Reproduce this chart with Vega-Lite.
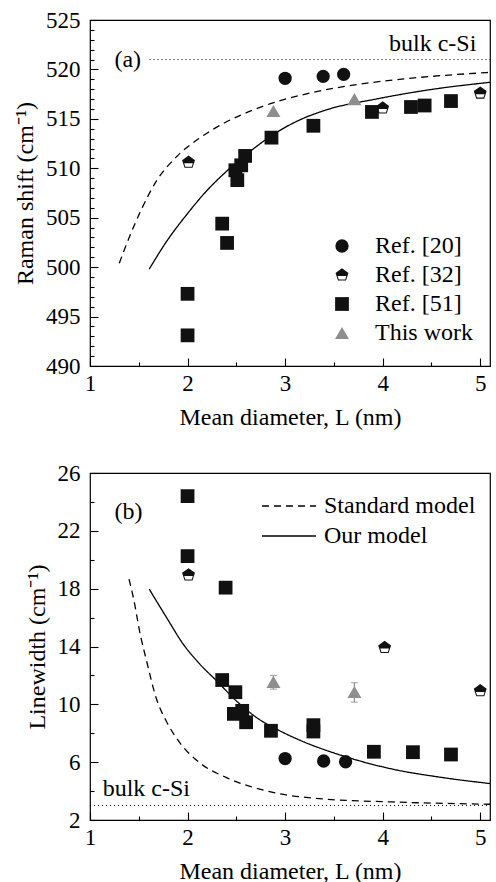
{
  "$schema": "https://vega.github.io/schema/vega-lite/v6.json",
  "background": "white",
  "padding": {"left": 12, "top": 8, "right": 0, "bottom": 0},
  "bounds": "flush",
  "spacing": 107,
  "config": {
    "font": "Liberation Serif",
    "view": {"stroke": "black", "strokeWidth": 1.2},
    "axis": {
      "domain": false, "grid": false, "labelOverlap": false, "labelFlush": false,
      "labelFont": "Liberation Serif", "labelFontSize": 23, "labelColor": "black",
      "titleFont": "Liberation Serif", "titleFontSize": 24, "titleFontWeight": "normal", "titleColor": "black",
      "tickColor": "black", "tickWidth": 1.1
    },
    "legend": {"labelFont": "Liberation Serif", "labelFontSize": 24, "labelColor": "black", "padding": 0}
  },
  "datasets": {
    "a_pts": [
      {"series": "Ref. [20]", "L": 3.0, "v": 519.1},
      {"series": "Ref. [20]", "L": 3.39, "v": 519.3},
      {"series": "Ref. [20]", "L": 3.6, "v": 519.5},
      {"series": "Ref. [32]", "L": 2.01, "v": 510.6},
      {"series": "Ref. [32]", "L": 4.0, "v": 516.1},
      {"series": "Ref. [32]", "L": 5.0, "v": 517.6},
      {"series": "Ref. [51]", "L": 2.0, "v": 497.3},
      {"series": "Ref. [51]", "L": 2.0, "v": 493.1},
      {"series": "Ref. [51]", "L": 2.355, "v": 504.4},
      {"series": "Ref. [51]", "L": 2.405, "v": 502.45},
      {"series": "Ref. [51]", "L": 2.49, "v": 509.8},
      {"series": "Ref. [51]", "L": 2.51, "v": 508.8},
      {"series": "Ref. [51]", "L": 2.55, "v": 510.3},
      {"series": "Ref. [51]", "L": 2.59, "v": 511.25},
      {"series": "Ref. [51]", "L": 2.86, "v": 513.1},
      {"series": "Ref. [51]", "L": 3.29, "v": 514.3},
      {"series": "Ref. [51]", "L": 3.89, "v": 515.7},
      {"series": "Ref. [51]", "L": 4.29, "v": 516.2},
      {"series": "Ref. [51]", "L": 4.43, "v": 516.35},
      {"series": "Ref. [51]", "L": 4.7, "v": 516.8},
      {"series": "This work", "L": 2.88, "v": 515.8},
      {"series": "This work", "L": 3.71, "v": 517.0}
    ],
    "a_curves": [
      {"model": "Standard model", "L": 1.30, "v": 500.4},
      {"model": "Standard model", "L": 1.41, "v": 503.2},
      {"model": "Standard model", "L": 1.53, "v": 505.9},
      {"model": "Standard model", "L": 1.68, "v": 508.7},
      {"model": "Standard model", "L": 1.89, "v": 511.2},
      {"model": "Standard model", "L": 2.13, "v": 513.1},
      {"model": "Standard model", "L": 2.36, "v": 514.5},
      {"model": "Standard model", "L": 2.55, "v": 515.4},
      {"model": "Standard model", "L": 2.78, "v": 516.3},
      {"model": "Standard model", "L": 3.25, "v": 517.6},
      {"model": "Standard model", "L": 3.76, "v": 518.5},
      {"model": "Standard model", "L": 4.28, "v": 519.1},
      {"model": "Standard model", "L": 5.1, "v": 519.7},
      {"model": "Our model", "L": 1.607, "v": 499.8},
      {"model": "Our model", "L": 1.785, "v": 502.6},
      {"model": "Our model", "L": 1.99, "v": 505.3},
      {"model": "Our model", "L": 2.194, "v": 507.7},
      {"model": "Our model", "L": 2.40, "v": 509.7},
      {"model": "Our model", "L": 2.64, "v": 511.7},
      {"model": "Our model", "L": 2.876, "v": 513.4},
      {"model": "Our model", "L": 3.13, "v": 514.8},
      {"model": "Our model", "L": 3.42, "v": 515.9},
      {"model": "Our model", "L": 3.93, "v": 517.0},
      {"model": "Our model", "L": 4.45, "v": 517.9},
      {"model": "Our model", "L": 5.1, "v": 518.7}
    ],
    "a_bulk": [{"x1": 1.61, "x2": 5.1, "v": 521}],
    "a_txt_left": [{"label": "(a)", "L": 1.25, "v": 520.95}],
    "a_txt_right": [{"label": "bulk c-Si", "L": 4.96, "v": 522.6}],
    "b_pts": [
      {"series": "Ref. [20]", "L": 3.0, "v": 6.25},
      {"series": "Ref. [20]", "L": 3.395, "v": 6.08},
      {"series": "Ref. [20]", "L": 3.62, "v": 6.03},
      {"series": "Ref. [32]", "L": 2.01, "v": 18.95},
      {"series": "Ref. [32]", "L": 4.02, "v": 13.93},
      {"series": "Ref. [32]", "L": 5.0, "v": 10.93},
      {"series": "Ref. [51]", "L": 2.0, "v": 24.4},
      {"series": "Ref. [51]", "L": 2.0, "v": 20.25},
      {"series": "Ref. [51]", "L": 2.39, "v": 18.07},
      {"series": "Ref. [51]", "L": 2.355, "v": 11.68},
      {"series": "Ref. [51]", "L": 2.49, "v": 10.84},
      {"series": "Ref. [51]", "L": 2.475, "v": 9.34},
      {"series": "Ref. [51]", "L": 2.56, "v": 9.55},
      {"series": "Ref. [51]", "L": 2.6, "v": 8.76},
      {"series": "Ref. [51]", "L": 2.855, "v": 8.17},
      {"series": "Ref. [51]", "L": 3.29, "v": 8.56},
      {"series": "Ref. [51]", "L": 3.29, "v": 8.12},
      {"series": "Ref. [51]", "L": 3.91, "v": 6.72},
      {"series": "Ref. [51]", "L": 4.31, "v": 6.69},
      {"series": "Ref. [51]", "L": 4.70, "v": 6.53},
      {"series": "This work", "L": 2.88, "v": 11.55},
      {"series": "This work", "L": 3.71, "v": 10.85}
    ],
    "b_err": [
      {"L": 2.88, "lo": 11.05, "hi": 12.0},
      {"L": 3.71, "lo": 10.15, "hi": 11.5}
    ],
    "b_curves": [
      {"model": "Standard model", "L": 1.40, "v": 18.66},
      {"model": "Standard model", "L": 1.45, "v": 17.2},
      {"model": "Standard model", "L": 1.51, "v": 15.0},
      {"model": "Standard model", "L": 1.58, "v": 13.0},
      {"model": "Standard model", "L": 1.68, "v": 10.4},
      {"model": "Standard model", "L": 1.785, "v": 8.8},
      {"model": "Standard model", "L": 1.92, "v": 7.35},
      {"model": "Standard model", "L": 2.126, "v": 5.95},
      {"model": "Standard model", "L": 2.40, "v": 4.93},
      {"model": "Standard model", "L": 2.81, "v": 4.01},
      {"model": "Standard model", "L": 3.42, "v": 3.44},
      {"model": "Standard model", "L": 4.10, "v": 3.25},
      {"model": "Standard model", "L": 5.1, "v": 3.09},
      {"model": "Our model", "L": 1.607, "v": 17.97},
      {"model": "Our model", "L": 1.785, "v": 16.0},
      {"model": "Our model", "L": 1.955, "v": 14.17},
      {"model": "Our model", "L": 2.126, "v": 12.78},
      {"model": "Our model", "L": 2.297, "v": 11.63},
      {"model": "Our model", "L": 2.50, "v": 10.24},
      {"model": "Our model", "L": 2.706, "v": 9.09},
      {"model": "Our model", "L": 2.945, "v": 8.17},
      {"model": "Our model", "L": 3.15, "v": 7.52},
      {"model": "Our model", "L": 3.59, "v": 6.44},
      {"model": "Our model", "L": 4.10, "v": 5.52},
      {"model": "Our model", "L": 4.62, "v": 4.93},
      {"model": "Our model", "L": 5.1, "v": 4.52}
    ],
    "b_bulk": [{"x1": 1.0, "x2": 5.1, "v": 3.0}],
    "b_txt_left": [
      {"label": "(b)", "L": 1.25, "v": 23.27},
      {"label": "bulk c-Si", "L": 1.13, "v": 4.15}
    ]
  },
  "vconcat": [
    {
      "width": 400,
      "height": 346,
      "resolve": {"axis": {"x": "independent", "y": "independent"}},
      "layer": [
        {
          "data": {"name": "a_bulk"},
          "mark": {"type": "rule", "strokeDash": [1, 3], "color": "black", "strokeWidth": 1},
          "encoding": {
            "x": {"field": "x1", "type": "quantitative", "scale": {"domain": [1, 5.1], "nice": false, "zero": false},
              "axis": {"orient": "bottom", "title": "Mean diameter, L (nm)", "values": [1, 2, 3, 4, 5], "format": "d", "ticks": false, "labelPadding": 6, "titlePadding": 10}},
            "x2": {"field": "x2"},
            "y": {"field": "v", "type": "quantitative", "scale": {"domain": [490, 525], "nice": false, "zero": false},
              "axis": {"orient": "left", "title": "Raman shift (cm⁻¹)", "values": [490, 495, 500, 505, 510, 515, 520, 525], "format": "d", "ticks": false, "labelPadding": 10, "titlePadding": 8}}
          }
        },
        {
          "data": {"name": "a_curves"},
          "mark": {"type": "line", "color": "black", "strokeWidth": 1.3, "interpolate": "monotone"},
          "encoding": {
            "x": {"field": "L", "type": "quantitative", "axis": {"orient": "top", "offset": -346, "title": null, "labels": false, "ticks": true, "values": [1, 2, 3, 4, 5], "tickSize": 8}},
            "y": {"field": "v", "type": "quantitative", "axis": {"orient": "right", "offset": -400, "title": null, "labels": false, "ticks": true, "values": [490, 495, 500, 505, 510, 515, 520, 525], "tickSize": 8}},
            "strokeDash": {"field": "model", "type": "nominal", "scale": {"domain": ["Standard model", "Our model"], "range": [[7, 5], [1, 0]]}, "legend": null}
          }
        },
        {
          "data": {"name": "a_pts"},
          "mark": {"type": "point", "filled": true, "opacity": 1, "strokeWidth": 0},
          "encoding": {
            "x": {"field": "L", "type": "quantitative", "axis": {"orient": "top", "offset": -346, "title": null, "labels": false, "ticks": true, "values": [1.5, 2.5, 3.5, 4.5], "tickSize": 4}},
            "y": {"field": "v", "type": "quantitative", "axis": {"orient": "right", "offset": -400, "title": null, "labels": false, "ticks": true, "values": [491,492,493,494,496,497,498,499,501,502,503,504,506,507,508,509,511,512,513,514,516,517,518,519,521,522,523,524], "tickSize": 4}},
            "shape": {"field": "series", "type": "nominal", "scale": {"domain": ["Ref. [20]", "Ref. [32]", "Ref. [51]", "This work"], "range": ["circle", "M0,-1L0.951,-0.309L0.588,0.809L-0.588,0.809L-0.951,-0.309ZM0.64,0.15L-0.64,0.15L-0.48,0.66L0.48,0.66Z", "square", "triangle-up"]},
              "legend": {"title": null, "orient": "none", "legendX": 240, "legendY": 214, "rowPadding": 5, "labelOffset": 21, "symbolStrokeWidth": 0}},
            "color": {"field": "series", "type": "nominal", "scale": {"domain": ["Ref. [20]", "Ref. [32]", "Ref. [51]", "This work"], "range": ["#111111", "#111111", "#111111", "#8e8e8e"]},
              "legend": {"title": null, "orient": "none", "legendX": 240, "legendY": 214, "rowPadding": 5, "labelOffset": 21, "symbolStrokeWidth": 0}},
            "size": {"field": "series", "type": "nominal", "scale": {"domain": ["Ref. [20]", "Ref. [32]", "Ref. [51]", "This work"], "range": [177, 196, 140, 220]},
              "legend": {"title": null, "orient": "none", "legendX": 240, "legendY": 214, "rowPadding": 5, "labelOffset": 21, "symbolStrokeWidth": 0}}
          }
        },
        {
          "data": {"name": "a_txt_left"},
          "mark": {"type": "text", "align": "left", "baseline": "middle", "fontSize": 24, "color": "black"},
          "encoding": {"x": {"field": "L", "type": "quantitative", "axis": null}, "y": {"field": "v", "type": "quantitative", "axis": null}, "text": {"field": "label"}}
        },
        {
          "data": {"name": "a_txt_right"},
          "mark": {"type": "text", "align": "right", "baseline": "middle", "fontSize": 24, "color": "black"},
          "encoding": {"x": {"field": "L", "type": "quantitative", "axis": null}, "y": {"field": "v", "type": "quantitative", "axis": null}, "text": {"field": "label"}}
        }
      ]
    },
    {
      "width": 400,
      "height": 347,
      "resolve": {"axis": {"x": "independent", "y": "independent"}},
      "layer": [
        {
          "data": {"name": "b_bulk"},
          "mark": {"type": "rule", "strokeDash": [1, 3], "color": "black", "strokeWidth": 1},
          "encoding": {
            "x": {"field": "x1", "type": "quantitative", "scale": {"domain": [1, 5.1], "nice": false, "zero": false},
              "axis": {"orient": "bottom", "title": "Mean diameter, L (nm)", "values": [1, 2, 3, 4, 5], "format": "d", "ticks": false, "labelPadding": 6, "titlePadding": 10}},
            "x2": {"field": "x2"},
            "y": {"field": "v", "type": "quantitative", "scale": {"domain": [2, 26], "nice": false, "zero": false},
              "axis": {"orient": "left", "title": "Linewidth (cm⁻¹)", "values": [2, 6, 10, 14, 18, 22, 26], "format": "d", "ticks": false, "labelPadding": 10, "titlePadding": 8}}
          }
        },
        {
          "data": {"name": "b_curves"},
          "mark": {"type": "line", "color": "black", "strokeWidth": 1.3, "interpolate": "monotone"},
          "encoding": {
            "x": {"field": "L", "type": "quantitative", "axis": {"orient": "top", "offset": -347, "title": null, "labels": false, "ticks": true, "values": [1, 2, 3, 4, 5], "tickSize": 8}},
            "y": {"field": "v", "type": "quantitative", "axis": {"orient": "right", "offset": -400, "title": null, "labels": false, "ticks": true, "values": [2, 6, 10, 14, 18, 22, 26], "tickSize": 8}},
            "strokeDash": {"field": "model", "type": "nominal", "scale": {"domain": ["Standard model", "Our model"], "range": [[7, 5], [1, 0]]},
              "legend": {"title": null, "orient": "none", "legendX": 170, "legendY": 21, "symbolType": "M-1,0H4.4", "symbolSize": 400, "symbolStrokeColor": "black", "symbolStrokeWidth": 1.3, "symbolFillColor": "transparent", "labelOffset": 40, "rowPadding": 6}}
          }
        },
        {
          "data": {"name": "b_err"},
          "mark": {"type": "errorbar", "ticks": {"size": 7, "color": "#8e8e8e"}, "color": "#8e8e8e", "thickness": 1.2},
          "encoding": {
            "x": {"field": "L", "type": "quantitative", "axis": null},
            "y": {"field": "lo", "type": "quantitative", "axis": null},
            "y2": {"field": "hi"}
          }
        },
        {
          "data": {"name": "b_pts"},
          "mark": {"type": "point", "filled": true, "opacity": 1, "strokeWidth": 0},
          "encoding": {
            "x": {"field": "L", "type": "quantitative", "axis": {"orient": "top", "offset": -347, "title": null, "labels": false, "ticks": true, "values": [1.5, 2.5, 3.5, 4.5], "tickSize": 4}},
            "y": {"field": "v", "type": "quantitative", "axis": {"orient": "right", "offset": -400, "title": null, "labels": false, "ticks": true, "values": [4, 8, 12, 16, 20, 24], "tickSize": 4}},
            "shape": {"field": "series", "type": "nominal", "scale": {"domain": ["Ref. [20]", "Ref. [32]", "Ref. [51]", "This work"], "range": ["circle", "M0,-1L0.951,-0.309L0.588,0.809L-0.588,0.809L-0.951,-0.309ZM0.64,0.15L-0.64,0.15L-0.48,0.66L0.48,0.66Z", "square", "triangle-up"]}, "legend": null},
            "color": {"field": "series", "type": "nominal", "scale": {"domain": ["Ref. [20]", "Ref. [32]", "Ref. [51]", "This work"], "range": ["#111111", "#111111", "#111111", "#8e8e8e"]}, "legend": null},
            "size": {"field": "series", "type": "nominal", "scale": {"domain": ["Ref. [20]", "Ref. [32]", "Ref. [51]", "This work"], "range": [177, 196, 140, 220]}, "legend": null}
          }
        },
        {
          "data": {"name": "b_txt_left"},
          "mark": {"type": "text", "align": "left", "baseline": "middle", "fontSize": 24, "color": "black"},
          "encoding": {"x": {"field": "L", "type": "quantitative", "axis": null}, "y": {"field": "v", "type": "quantitative", "axis": null}, "text": {"field": "label"}}
        }
      ]
    }
  ],
  "resolve": {
    "scale": {"shape": "independent", "color": "independent", "size": "independent", "strokeDash": "independent"},
    "legend": {"shape": "independent", "color": "independent", "size": "independent", "strokeDash": "independent"}
  }
}
